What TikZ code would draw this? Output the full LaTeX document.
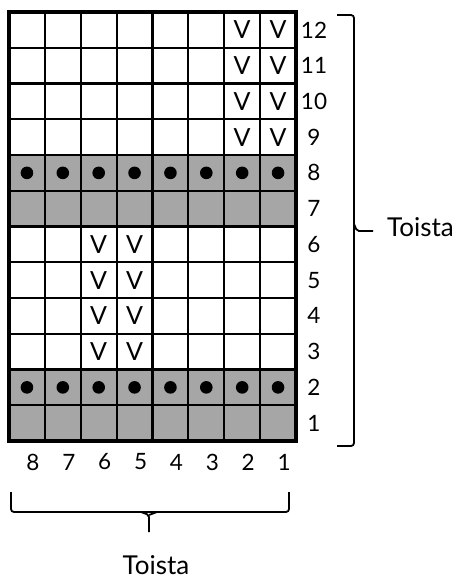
\documentclass[tikz,border=0pt]{standalone}
\usepackage{fontspec}
\setmainfont{Lato}
\begin{document}
\begin{tikzpicture}[x=1pt,y=-1pt,
  lbl/.style={inner sep=0pt, font=\fontsize{22.5}{26}\selectfont},
  big/.style={inner sep=0pt, font=\fontsize{26}{30}\selectfont},
  sym/.style={inner sep=0pt, font=\fontsize{25}{28}\selectfont},
  grayfill/.style={fill=black!35},
  inner/.style={line width=2.2pt},
  outer/.style={line width=4.8pt},
  brace/.style={line width=1.8pt, rounded corners=3pt}]
\useasboundingbox (0,0) rectangle (459,579);
\def\xa{9}\def\ya{12}\def\cw{35.875}\def\rh{35.75}
% gray rows
\foreach \r in {1,2,7,8}{
  \fill[grayfill] (\xa,{\ya+(12-\r)*\rh}) rectangle (\xa+8*\cw,{\ya+(13-\r)*\rh});
}
% inner lines
\foreach \i in {1,...,7}{
  \draw[inner] ({\xa+\i*\cw},\ya) -- ({\xa+\i*\cw},{\ya+12*\rh});
}
\foreach \j in {1,...,11}{
  \draw[inner] (\xa,{\ya+\j*\rh}) -- ({\xa+8*\cw},{\ya+\j*\rh});
}
\draw[outer] (\xa,\ya) rectangle ({\xa+8*\cw},{\ya+12*\rh});
% dots
\foreach \r in {2,8}{
  \foreach \c in {1,...,8}{
    \fill ({\xa+(8-\c+0.5)*\cw},{\ya+(12-\r+0.5)*\rh}) circle (6.3);
  }
}
% V marks
\foreach \r in {9,...,12}{
  \foreach \c in {1,2}{
    \node[sym] (v-\r-\c) at ({\xa+(8-\c+0.5)*\cw},{\ya+(12-\r+0.5)*\rh}) {V};
  }
}
\foreach \r in {3,...,6}{
  \foreach \c in {5,6}{
    \node[sym] (v-\r-\c) at ({\xa+(8-\c+0.5)*\cw},{\ya+(12-\r+0.5)*\rh}) {V};
  }
}
% row labels
\foreach \r in {1,...,12}{
  \node[lbl] (row-\r) at (314,{\ya+(12-\r+0.5)*\rh}) {\r};
}
% column labels
\foreach \c in {1,...,8}{
  \node[lbl] (col-\c) at ({\xa+(8-\c+0.5)*\cw+6},462) {\c};
}
% right brace
\coordinate (rb-top) at (337,15);
\coordinate (rb-bot) at (337,446);
\coordinate (rb-tip) at (373,231);
\draw[brace] (rb-top) -- (354,15) -- (354,446) -- (rb-bot);
\draw[brace, rounded corners=2pt] (354,224) -- (357,231) -- (rb-tip);
\node[big, anchor=west] (toista-r) at (387,227) {Toista};
% bottom brace
\coordinate (bb-left) at (11,492);
\coordinate (bb-right) at (289,492);
\coordinate (bb-tip) at (149,532);
\draw[brace] (bb-left) -- (11,512) -- (289,512) -- (bb-right);
\draw[brace, rounded corners=2pt] (141,512) -- (149,515) -- (bb-tip);
\draw[brace, rounded corners=2pt] (157,512) -- (149,515);
\node[big] (toista-b) at (156,565) {Toista};
\end{tikzpicture}
\end{document}
